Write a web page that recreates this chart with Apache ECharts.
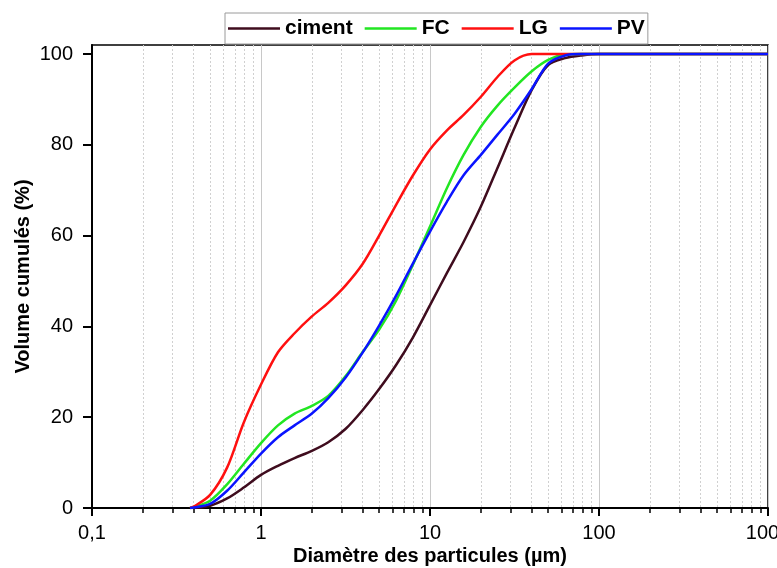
<!DOCTYPE html>
<html>
<head>
<meta charset="utf-8">
<script src="https://cdn.jsdelivr.net/npm/echarts@6/dist/echarts.min.js"></script>
<style>
  html, body { margin: 0; padding: 0; background: #fff; }
  #chart { width: 777px; height: 568px; }
</style>
</head>
<body>
<div id="chart"></div>
<script>
// diamètres lus (µm) et volumes cumulés (%)
const diametres = [
    0.4, 0.5, 0.63, 0.79, 1, 1.26, 1.58, 2, 2.5, 3.16, 4, 5, 6.3, 7.9,
    10, 12.6, 15.8, 20, 25, 31.6, 40, 50, 63, 79, 100, 1000
];
const ciment = [
    0, 0.5, 2.1, 4.5, 7.3, 9.3, 11.0, 12.6, 14.5, 17.4, 21.6, 26.2, 31.5, 37.5,
    44.7, 51.8, 58.6, 66.4, 74.8, 83.7, 92.1, 97.6, 99.1, 99.7, 100, 100
];
const fc = [
    0.2, 1.6, 5.2, 9.7, 14.3, 18.2, 20.8, 22.5, 24.7, 29.0, 34.4, 39.3, 45.7, 53.5,
    62, 70.5, 77.8, 84, 88.6, 92.6, 96.2, 98.7, 99.9, 100, 100, 100
];
const lg = [
    0.3, 2.9, 8.9, 18.8, 27.2, 34.3, 38.5, 42.2, 45.2, 49.0, 53.8, 60, 66.8, 73.2,
    79, 83.2, 86.6, 90.6, 94.9, 98.6, 100, 100, 100, 100, 100, 100
];
const pv = [
    0.1, 0.9, 3.8, 7.8, 12, 15.6, 18.2, 20.8, 24.2, 28.7, 34.3, 40.2, 46.8, 53.8,
    60.9, 67.5, 73.3, 77.8, 82.2, 86.8, 92.3, 97.9, 99.7, 100, 100, 100
];
const debut = 0.38;

const seriesNames = ['ciment', 'FC', 'LG', 'PV'];
const seriesColors = ['#3f0c1e', '#22e622', '#ff1010', '#0a14ff'];
const seriesValues = [ciment, fc, lg, pv];

const xMajorTicks = [0.1, 1, 10, 100, 1000];
const xMinorTicks = [
    0.2, 0.3, 0.4, 0.5, 0.6, 0.7, 0.8, 0.9,
    2, 3, 4, 5, 6, 7, 8, 9,
    20, 30, 40, 50, 60, 70, 80, 90,
    200, 300, 400, 500, 600, 700, 800, 900
];
const yTicks = [0, 20, 40, 60, 80, 100];

const chart = echarts.init(document.getElementById('chart'), null, { renderer: 'canvas' });

const font = 'Liberation Sans, Arial, sans-serif';

const buildData = (values) => [[debut, 0]].concat(diametres.map((d, i) => [d, values[i]]));

const option = {
    animation: false,
    backgroundColor: '#fff',
    legend: {
        data: seriesNames,
        left: 225,
        top: 13,
        padding: [5, 3, 5, 3],
        itemGap: 12,
        itemWidth: 52,
        itemHeight: 2.5,
        icon: 'rect',
        borderColor: '#9a9a9a',
        borderWidth: 1,
        backgroundColor: '#fff',
        textStyle: {
            color: '#000',
            fontSize: 21,
            fontWeight: 'bold',
            fontFamily: font
        }
    },
    grid: {
        left: 92,
        right: 9,
        top: 45,
        bottom: 60,
        containLabel: false,
        outerBoundsMode: 'none',
        show: true,
        borderColor: '#000',
        borderWidth: 1.5
    },
    xAxis: [{
        type: 'log',
        logBase: 10,
        min: 0.1,
        max: 1000,
        name: 'Diamètre des particules (µm)',
        nameLocation: 'middle',
        nameGap: 38,
        nameMoveOverlap: false,
        nameTextStyle: { color: '#000', fontSize: 20, fontWeight: 'bold', fontFamily: font },
        axisLine: { lineStyle: { color: '#000', width: 2 } },
        axisTick: { customValues: xMajorTicks, length: 8, lineStyle: { color: '#000', width: 2 } },
        axisLabel: {
            customValues: xMajorTicks,
            color: '#000',
            fontSize: 20,
            fontFamily: font,
            margin: 15,
            formatter: (v) => String(v).replace('.', ',')
        },
        splitLine: { show: true, lineStyle: { color: '#c8c8c8', width: 1 } }
    }, {
        type: 'log',
        logBase: 10,
        min: 0.1,
        max: 1000,
        position: 'bottom',
        axisLine: { show: false },
        axisTick: { customValues: xMinorTicks, length: 5, lineStyle: { color: '#000', width: 1.5 } },
        axisLabel: { show: false },
        splitLine: { show: true, lineStyle: { color: '#d0d0d0', width: 1, type: [2, 2] } }
    }],
    yAxis: {
        type: 'value',
        min: 0,
        max: 102,
        interval: 20,
        name: 'Volume cumulés (%)',
        nameLocation: 'middle',
        nameGap: 59,
        nameMoveOverlap: false,
        nameTextStyle: { color: '#000', fontSize: 20, fontWeight: 'bold', fontFamily: font },
        axisLine: { show: true, lineStyle: { color: '#000', width: 2 } },
        axisTick: { show: true, customValues: yTicks, length: 9, lineStyle: { color: '#000', width: 2 } },
        axisLabel: { customValues: yTicks, color: '#000', fontSize: 20, fontFamily: font, margin: 19 },
        splitLine: { show: false }
    },
    series: seriesNames.map((name, i) => ({
        name,
        type: 'line',
        xAxisIndex: 0,
        data: buildData(seriesValues[i]),
        smooth: 0.3,
        showSymbol: false,
        symbol: 'none',
        color: seriesColors[i],
        lineStyle: { color: seriesColors[i], width: 2.5 },
        z: 3 + i
    }))
};

chart.setOption(option);
</script>
</body>
</html>
